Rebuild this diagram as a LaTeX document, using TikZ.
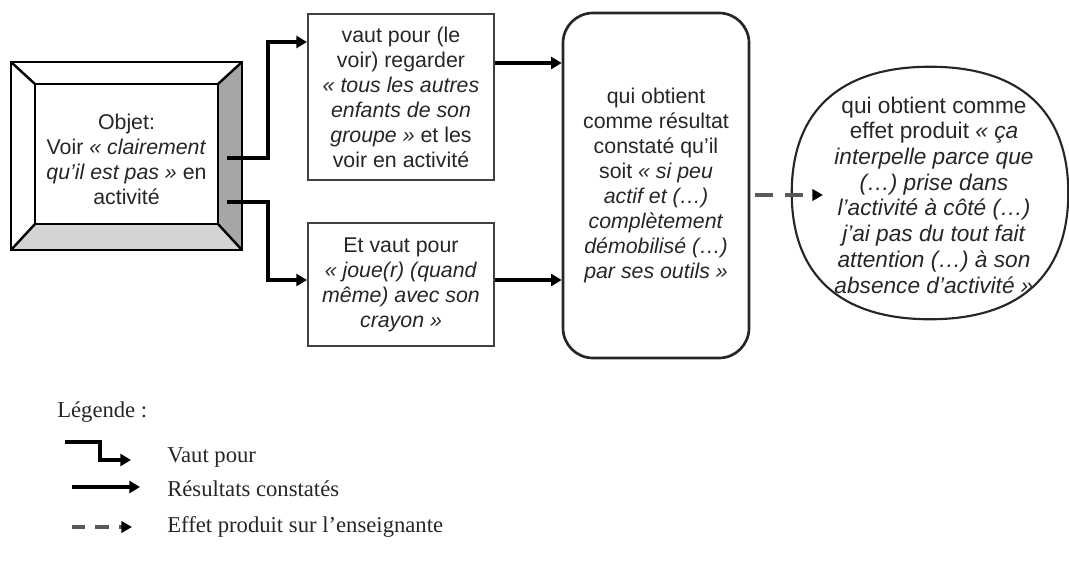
\documentclass[tikz,border=0pt]{standalone}
\usepackage{fontspec}
\setmainfont{Liberation Sans}
\newfontfamily\legfont{Liberation Serif}
\usetikzlibrary{arrows.meta,calc,shapes.geometric}
\begin{document}
\begin{tikzpicture}[x=0.75pt,y=-0.75pt,
  txt/.style={font=\fontsize{16}{18.75}\selectfont, text=black!85, align=center, inner sep=0pt},
  efftxt/.style={font=\fontsize{17}{19.3}\selectfont, text=black!85, align=center, inner sep=0pt},
  legtxt/.style={font=\legfont\fontsize{17}{20}\selectfont, text=black!85, anchor=west, inner sep=0pt},
  plainbox/.style={draw=black!75, line width=1.5pt, minimum width=139.5pt},
  resbox/.style={draw=black!85, line width=2pt, rounded corners=22.5pt, minimum width=139.5pt, minimum height=258.75pt},
  effshape/.style={ellipse, minimum width=207pt, minimum height=189pt, inner sep=0pt},
  effline/.style={draw=black!85, line width=1.6pt},
  conn/.style={line width=3pt, -{Triangle[length=8pt,width=9pt]}},
  dashconn/.style={line width=3pt, draw=black!65, dash pattern=on 13.5pt off 9pt, -{Triangle[length=8pt,width=8.5pt,fill=black,color=black]}},
  bevel/.style={line width=1.8pt, draw=black}
]
\useasboundingbox (0,0) rectangle (1069,567);

% bevelled object box
\coordinate (o1) at (11,62);
\coordinate (o2) at (242,250);
\coordinate (i1) at (35,84);
\coordinate (i2) at (218,224);
\fill[white] (o1) rectangle (o2);
\fill[black!35] (o2 |- o1) -- (o2) -- (i2) -- (i2 |- i1) -- cycle;
\fill[black!17] (o1 |- o2) -- (o2) -- (i2) -- (i1 |- i2) -- cycle;
\draw[bevel] (o1) rectangle (o2);
\draw[bevel] (i1) rectangle (i2);
\draw[bevel] (o1) -- (i1);
\draw[bevel] (o2 |- o1) -- (i2 |- i1);
\draw[bevel] (o2) -- (i2);
\draw[bevel] (o1 |- o2) -- (i1 |- i2);
\node[txt] (obj) at (126.5,159.5) {Objet:\\Voir \textit{« clairement}\\\textit{qu'il est pas »} en\\activité};

% middle boxes
\node[plainbox, txt, minimum height=124.5pt] (b1) at (401,97)
  {vaut pour (le\\voir) regarder\\\textit{« tous les autres}\\\textit{enfants de son}\\\textit{groupe »} et les\\voir en activité};
\node[plainbox, txt, minimum height=92.25pt] (b2) at (401,284.5)
  {Et vaut pour\\\textit{« joue(r) (quand}\\\textit{même) avec son}\\\textit{crayon »}};

% result box
\node[resbox, txt] (res) at (656,185.5)
  {qui obtient\\comme résultat\\constaté qu'il\\soit \textit{« si peu}\\\textit{actif et (…)}\\\textit{complètement}\\\textit{démobilisé (…)}\\\textit{par ses outils »}};

% effect oval (drawn through the node's anchors)
\node[effshape] (eff) at (930,193) {};
\draw[effline] (eff.north)
  .. controls ($(eff.north)+(90,0)$) and ($(eff.east)+(0,-82)$) .. (eff.east)
  .. controls ($(eff.east)+(0,82)$) and ($(eff.south)+(90,0)$) .. (eff.south)
  .. controls ($(eff.south)+(-90,0)$) and ($(eff.west)+(0,82)$) .. (eff.west)
  .. controls ($(eff.west)+(0,-82)$) and ($(eff.north)+(-90,0)$) .. (eff.north) -- cycle;
\node[efftxt] (efftext) at (934,195)
  {qui obtient comme\\effet produit \textit{« ça}\\\textit{interpelle parce que}\\\textit{(…) prise dans}\\\textit{l'activité à côté (…)}\\\textit{j'ai pas du tout fait}\\\textit{attention (…) à son}\\\textit{absence d'activité »}};

% connectors
\coordinate (s1) at (227,158);
\coordinate (s2) at (227,202);
\draw[conn] (s1) -- ++(41,0) |- ($(b1.west)+(0,-55)$);
\draw[conn] (s2) -- ++(41,0) |- ($(b2.west)+(0,-4.5)$);
\coordinate (r1) at ($(b1.east)+(0,-34)$);
\coordinate (r2) at ($(b2.east)+(0,-4.5)$);
\draw[conn] (r1) -- (r1 -| res.west);
\draw[conn] (r2) -- (r2 -| res.west);
\coordinate (dtip) at (823,195);
\draw[dashconn] ($(dtip -| res.east)+(5,0)$) -- (dtip);

% legend
\node[legtxt] (leg) at (57,412) {Légende :};
\coordinate (l1a) at (65,442);
\coordinate (l1b) at (131,460);
\draw[conn] (l1a) -- ++(35,0) |- (l1b);
\node[legtxt] (lt1) at (167,457) {Vaut pour};
\coordinate (l2a) at (72,487);
\coordinate (l2b) at (140,487);
\draw[conn] (l2a) -- (l2b);
\node[legtxt] (lt2) at (167,489) {Résultats constatés};
\coordinate (l3a) at (72,527);
\coordinate (l3b) at (132,527);
\draw[dashconn, dash pattern=on 10pt off 7.5pt] (l3a) -- (l3b);
\node[legtxt] (lt3) at (167,527) {Effet produit sur l’enseignante};
\end{tikzpicture}
\end{document}
